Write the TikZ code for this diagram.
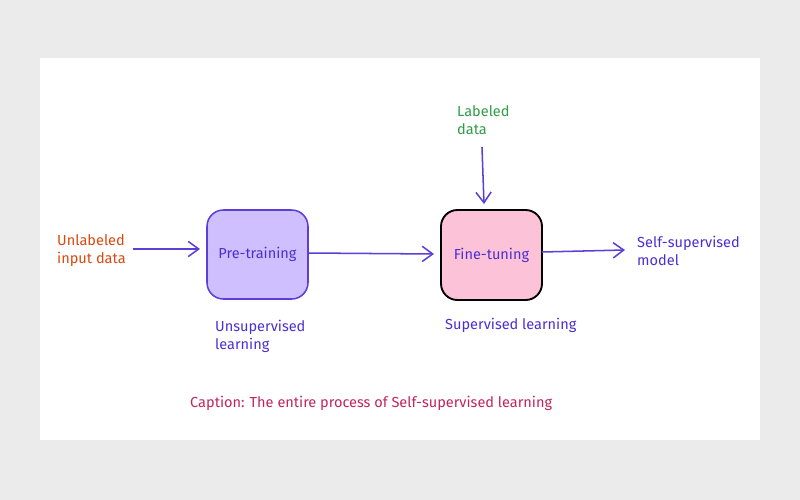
\documentclass[tikz,border=0pt]{standalone}
\usepackage{fontspec}
\setmainfont{Fira Sans}
\usetikzlibrary{arrows.meta}
\definecolor{bggray}{HTML}{EBEBEB}
\definecolor{pstroke}{HTML}{5B3FD6}
\definecolor{pfill}{HTML}{D0BFFF}
\definecolor{pinkfill}{HTML}{FCC2D7}
\definecolor{ptext}{HTML}{4C2FD0}
\definecolor{otext}{HTML}{D9480F}
\definecolor{gtext}{HTML}{2F9E44}
\definecolor{ctext}{HTML}{C2255C}
\newlength{\pxu}
\setlength{\pxu}{0.03cm}
\tikzset{
  txt/.style={font=\fontsize{12.4}{15.3}\selectfont},
  lbl/.style={txt, inner sep=0pt, align=left, anchor=west},
  boxp/.style={txt, draw=pstroke, fill=pfill, line width=1.3pt, rounded corners=14pt, minimum width=101\pxu, minimum height=89\pxu},
  boxf/.style={txt, draw=black, fill=pinkfill, line width=1.6pt, rounded corners=14pt, minimum width=101\pxu, minimum height=90\pxu},
  conn/.style={draw=pstroke, line width=1.3pt, -{Straight Barb[length=9pt,width=13pt,line width=1.3pt]}}
}
\begin{document}
\begin{tikzpicture}[x=0.03cm,y=-0.03cm]
\useasboundingbox (0,0) rectangle (800,500);
\fill[bggray] (0,0) rectangle (800,500);
\fill[white] (40,58) rectangle (760,440);
\node[boxp, text=ptext] (pre) at (257.5,254.5) {Pre-training};
\node[boxf, text=ptext] (fine) at (491.5,255) {Fine-tuning};
\node[lbl, text=otext] (unl) at (57,251) {Unlabeled\\input data};
\node[lbl, text=gtext] (lab) at (457,120) {Labeled\\data};
\node[lbl, text=ptext] (ssm) at (637,251) {Self-supervised\\model};
\node[lbl, text=ptext] (uns) at (215,336) {Unsupervised\\learning};
\node[lbl, text=ptext] (sup) at (445,325) {Supervised learning};
\node[lbl, text=ctext] (cap) at (190,403) {Caption: The entire process of Self-supervised learning};
\coordinate (a1s) at (133,249);
\coordinate (a1e) at (200,249);
\coordinate (a2s) at (308,253);
\coordinate (a2e) at (434,254);
\coordinate (a3s) at (542,252);
\coordinate (a3e) at (625,250);
\coordinate (a4s) at (482,147);
\coordinate (a4e) at (484,204);
\draw[conn] (a1s) -- (a1e);
\draw[conn] (a2s) -- (a2e);
\draw[conn] (a3s) -- (a3e);
\draw[conn] (a4s) -- (a4e);
\end{tikzpicture}
\end{document}
